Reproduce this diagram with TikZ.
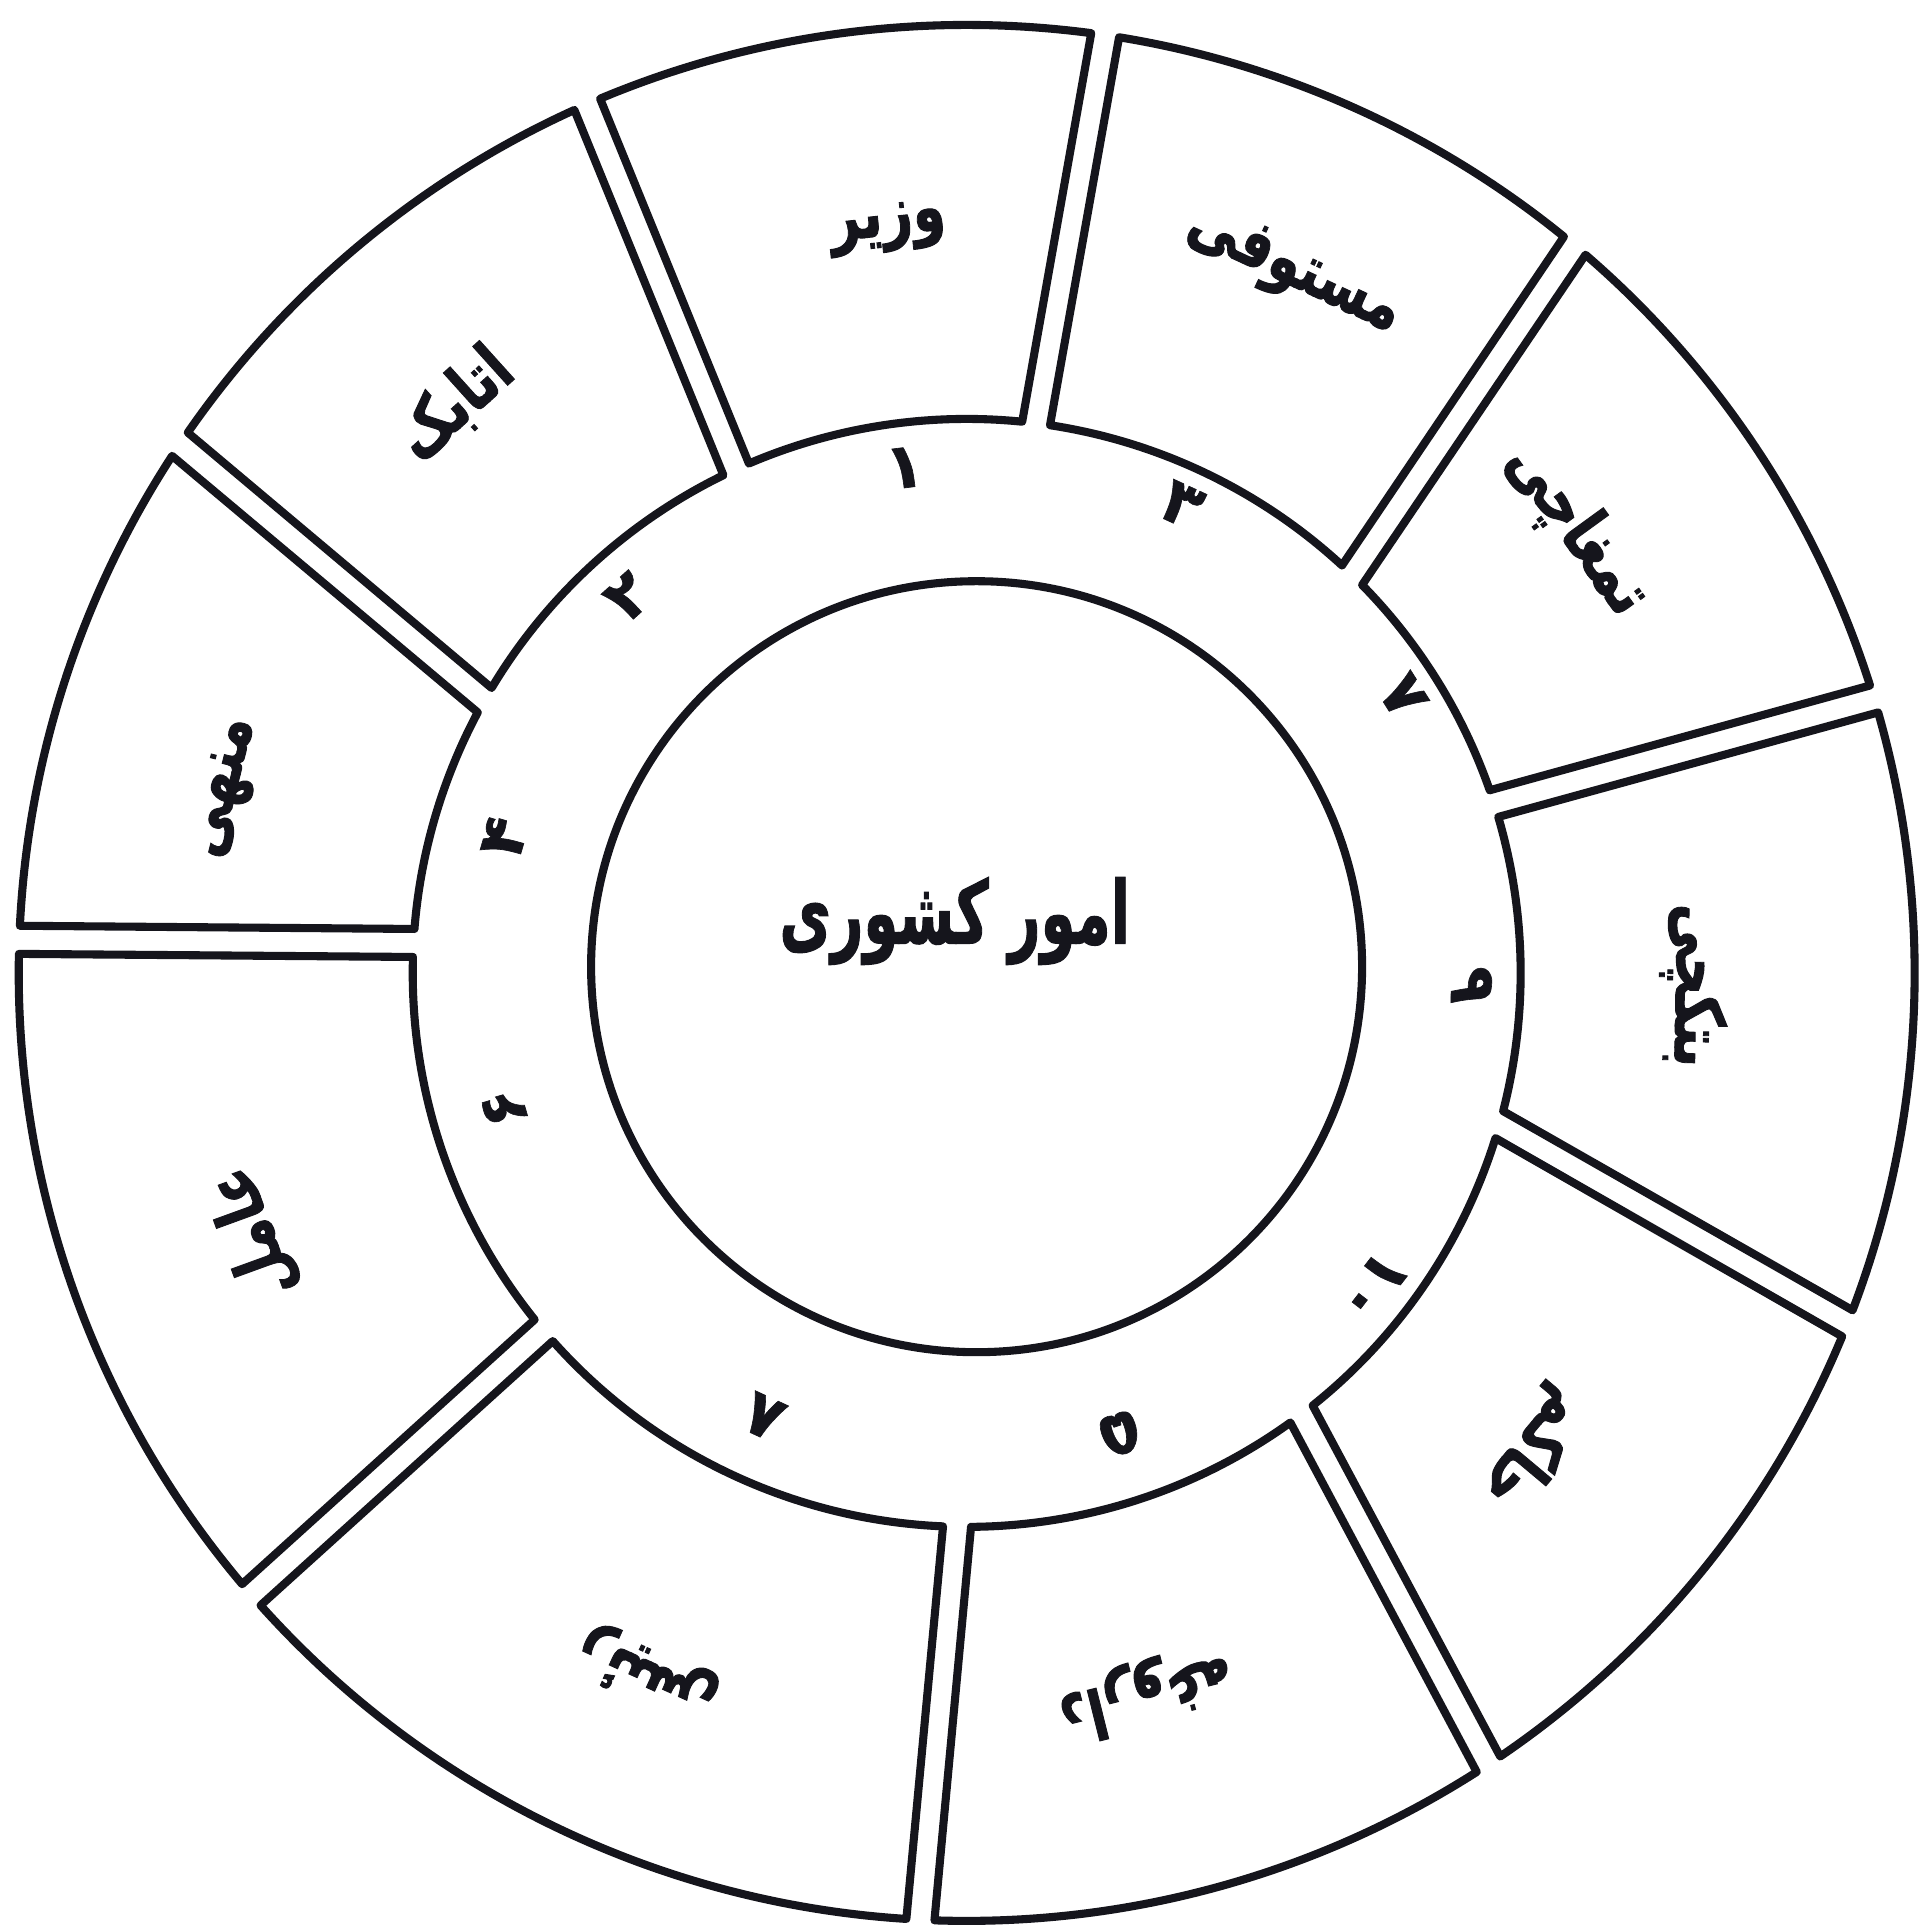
\documentclass[tikz,border=0pt]{standalone}
\usepackage{graphicx}
\usepackage{fontspec}
\newfontfamily\arabicfont[Script=Arabic, BoldFeatures={FakeBold=1.5}]{DejaVu Sans}
\newfontfamily\digitfont[BoldFeatures={FakeBold=1}]{DejaVu Sans}
\TeXXeTstate=1
\definecolor{ink}{HTML}{15151C}
\definecolor{paper}{HTML}{FFFFFF}
\newcommand\tallword[2]{\scalebox{1}[#1]{#2}}

\begin{document}
\begin{tikzpicture}[
          seg/.style={draw=ink, line width=2.3pt, line join=round, fill=paper},
          lbl/.style={font=\arabicfont\bfseries\fontsize{15}{18}\selectfont, text=ink, inner sep=0pt},
          num/.style={font=\digitfont\bfseries\fontsize{18}{20}\selectfont, text=ink, inner sep=0pt}]
        \def\rmid{5.54} \def\rout{9.48}
        \useasboundingbox[fill=paper] (-9.667,-9.581) rectangle (9.643,9.729);
        % ring of offices, gap angles inner/outer
        \foreach \ai/\ao/\bi/\bo in {82.8/81.6/114.6/113.6, 114.6/113.6/150.5/146.1,
            150.5/146.1/176.9/178, 176.9/178/220.2/221, 220.2/221/269/267.2,
            269/267.2/307.2/303.4, 307.2/303.4/344.1/338.3, 344.1/338.3/377.8/376.8,
            17.8/16.8/45.9/50.1, 45.9/50.1/82.8/81.6}{
          \pgfmathsetmacro\sa{\ai+1.45} \pgfmathsetmacro\sb{\ao+0.85}
          \pgfmathsetmacro\ea{\bi-1.45} \pgfmathsetmacro\eb{\bo-0.85}
          \draw[seg] (\sa:\rmid) -- (\sb:\rout) arc[start angle=\sb, end angle=\eb, radius=\rout]
            -- (\ea:\rmid) arc[start angle=\ea, end angle=\sa, radius=\rmid] -- cycle;}
        \node[seg, circle, minimum size=7.71cm, inner sep=0pt] (core) at (0.099,0.062) {};
        \node[lbl, font=\arabicfont\bfseries\fontsize{16}{20}\selectfont] (title) at (-0.12,0.52) {\tallword{1.55}{\beginR امور کشوری\endR}};
        \foreach \ang/\r/\word/\name in {96/7.49/وزیر/vazir, 65/7.73/مستوفی/mostowfi,
            36/7.54/تمغاچی/tamghachi, -1/7.27/بتکچی/bitikchi, -40/7.39/حاکم/hakem,
            -76/7.43/داروغه/daruga, 245.5/7.71/رئیس/rais, 200/7.60/عامل/amel,
            166/7.61/منهی/monhi, 132/7.64/اتابک/atabak}
          \node[lbl, rotate=\ang-90] (\name) at (\ang:\r) {\tallword{1.3}{\beginR\word\endR}};
        \foreach \ang/\r/\n/\name in {97/5.09/۱/n1, 132/5.06/۲/n2, 65.3/5.15/۳/n3,
            163.7/4.82/۴/n4, 288.4/4.86/۵/n5, 196.3/4.82/۶/n6, 32.4/5.17/۷/n7,
            245.4/4.88/۸/n8, -1.4/5.05/۹/n9, 322.3/5.14/۱۰/n10}
          \node[num, rotate=\ang-90] (\name) at (\ang:\r) {\n};
      \end{tikzpicture}
\end{document}
